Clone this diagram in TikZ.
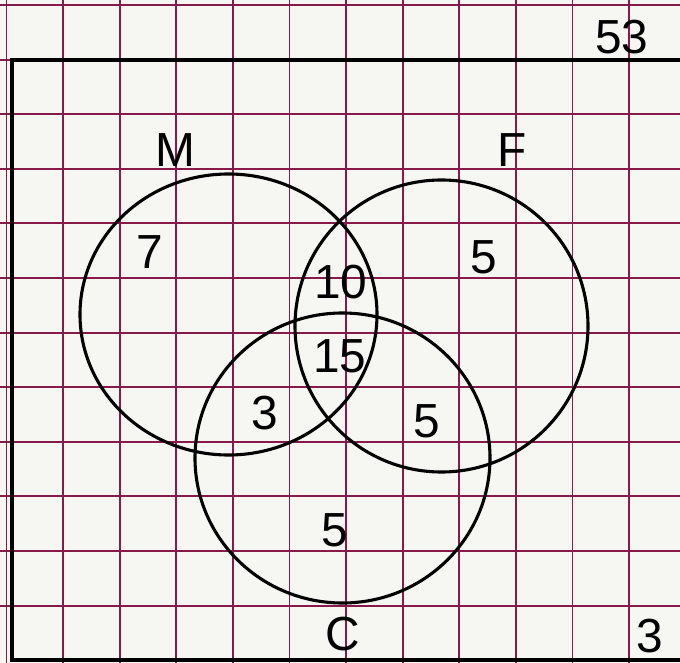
\documentclass[tikz,border=0pt]{standalone}
\usepackage{fontspec}
\setmainfont{Liberation Sans}
\definecolor{gridred}{RGB}{135,25,75}
\definecolor{paper}{RGB}{246,246,242}
\tikzset{
  gridline/.style={gridred, line width=1.4pt},
  setline/.style={black, line width=2.2pt},
  hand/.style={font=\fontsize{34}{34}\selectfont, inner sep=0pt},
}
\begin{document}
\begin{tikzpicture}[x=0.025cm, y=-0.025cm]
\useasboundingbox (0,0) rectangle (680,663);
\fill[paper] (0,0) rectangle (680,663);
\foreach \i in {0,...,11} \draw[gridline] (6.5+56.6*\i,0) -- (6.5+56.6*\i,663);
\foreach \j in {0,...,11} \draw[gridline] (0,5+54.6*\j) -- (680,5+54.6*\j);
%frame
\draw[black, line width=3pt] (680,60) -- (12,60) -- (12,660) -- (680,660);

\coordinate (cM) at (228.5,314.5);
\coordinate (cF) at (441.5,326);
\coordinate (cC) at (342.5,458);
\draw[setline] (cM) ellipse [x radius=148.5, y radius=140.5];
\draw[setline] (cF) ellipse [x radius=146.5, y radius=146];
\draw[setline] (cC) ellipse [x radius=147.5, y radius=145];

\node[hand] (lblM) at (175.6,150) {M};
\node[hand] (lblF) at (512,150) {F};
\node[hand] (lblC) at (342.6,634) {C};
\node[hand] (num53) at (621.7,37) {53};
\node[hand] (num3) at (650,636) {3};
%regions
\node[hand] (nM) at (150,252) {7};
\node[hand] (nMF) at (341,282) {10};
\node[hand] (nF) at (483.5,257) {5};
\node[hand] (nMFC) at (340,356) {15};
\node[hand] (nMC) at (264.5,413) {3};
\node[hand] (nFC) at (427,421) {5};
\node[hand] (nC) at (335,530) {5};
\end{tikzpicture}
\end{document}
